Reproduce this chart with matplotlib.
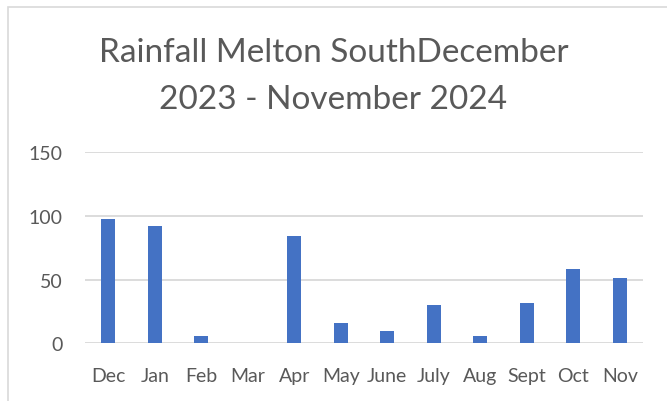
import matplotlib.pyplot as plt
from matplotlib.patches import Rectangle

# Rainfall data (mm)
meses = ['Dec', 'Jan', 'Feb', 'Mar', 'Apr', 'May', 'June', 'July', 'Aug', 'Sept', 'Oct', 'Nov']
lluvia = [98, 92.5, 6, 0, 84.5, 16, 10, 30, 6, 32, 58, 51]
ticks_y = [0, 50, 100, 150]

plt.rcParams['font.family'] = ['Lato', 'DejaVu Sans']

W, H = 667, 402
fig = plt.figure(figsize=(W / 100, H / 100), dpi=100)

# chart border
fig.patches.append(Rectangle((8 / W, -0.1), 1.1, (H - 8) / H + 0.1, transform=fig.transFigure,
                             fill=False, edgecolor='#d9d9d9', linewidth=1.2))

ax = fig.add_axes([85 / W, 1 - 344.3 / H, 558 / W, (344.3 - 153.3) / H])
x = range(len(meses))
ax.bar(x, lluvia, width=0.3, color='#4472c4', zorder=3)
ax.set_xlim(-0.5, len(meses) - 0.5)
ax.set_ylim(0, 150)
ax.set_yticks(ticks_y)
ax.set_xticks(list(x))
ax.set_xticklabels(meses)
ax.grid(axis='y', color='#d9d9d9', linewidth=1.3, zorder=0)
for s in ax.spines.values():
    s.set_visible(False)
ax.tick_params(length=0, labelsize=14, colors='#595959')
ax.tick_params(axis='x', pad=17)
ax.tick_params(axis='y', pad=16)

fig.text(0.5, 1 - 53 / H, 'Rainfall Melton SouthDecember', ha='center', va='center',
         fontsize=24, color='#595959')
fig.text(0.5, 1 - 100 / H, '2023 - November 2024', ha='center', va='center',
         fontsize=24, color='#595959')

fig.savefig('out.png', dpi=100)
